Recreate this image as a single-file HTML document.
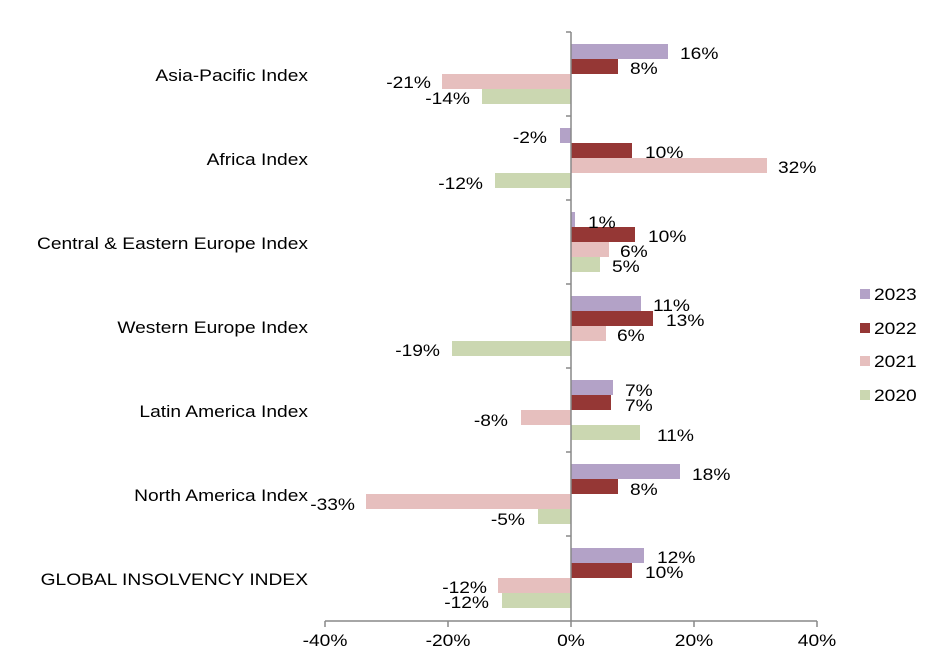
<!DOCTYPE html>
<html><head><meta charset="utf-8"><style>
html,body{margin:0;padding:0;background:#fff;}
svg{display:block;font-family:"Liberation Sans",Arial,sans-serif;font-size:16.5px;fill:#000;}
</style></head><body>
<svg width="946" height="665" xmlns="http://www.w3.org/2000/svg">
<g id="bars">
<rect x="571" y="44" width="97" height="15" fill="#b3a2c7"/>
<rect x="571" y="59" width="47" height="15" fill="#953735"/>
<rect x="442" y="74" width="129" height="15" fill="#e6bfbe"/>
<rect x="482" y="89" width="89" height="15" fill="#cbd7b1"/>
<rect x="560" y="128" width="11" height="15" fill="#b3a2c7"/>
<rect x="571" y="143" width="61" height="15" fill="#953735"/>
<rect x="571" y="158" width="196" height="15" fill="#e6bfbe"/>
<rect x="495" y="173" width="76" height="15" fill="#cbd7b1"/>
<rect x="571" y="212" width="4" height="15" fill="#b3a2c7"/>
<rect x="571" y="227" width="64" height="15" fill="#953735"/>
<rect x="571" y="242" width="38" height="15" fill="#e6bfbe"/>
<rect x="571" y="257" width="29" height="15" fill="#cbd7b1"/>
<rect x="571" y="296" width="70" height="15" fill="#b3a2c7"/>
<rect x="571" y="311" width="82" height="15" fill="#953735"/>
<rect x="571" y="326" width="35" height="15" fill="#e6bfbe"/>
<rect x="452" y="341" width="119" height="15" fill="#cbd7b1"/>
<rect x="571" y="380" width="42" height="15" fill="#b3a2c7"/>
<rect x="571" y="395" width="40" height="15" fill="#953735"/>
<rect x="521" y="410" width="50" height="15" fill="#e6bfbe"/>
<rect x="571" y="425" width="69" height="15" fill="#cbd7b1"/>
<rect x="571" y="464" width="109" height="15" fill="#b3a2c7"/>
<rect x="571" y="479" width="47" height="15" fill="#953735"/>
<rect x="366" y="494" width="205" height="15" fill="#e6bfbe"/>
<rect x="538" y="509" width="33" height="15" fill="#cbd7b1"/>
<rect x="571" y="548" width="73" height="15" fill="#b3a2c7"/>
<rect x="571" y="563" width="61" height="15" fill="#953735"/>
<rect x="498" y="578" width="73" height="15" fill="#e6bfbe"/>
<rect x="502" y="593" width="69" height="15" fill="#cbd7b1"/>
</g>
<g stroke="#888" stroke-width="1.5" fill="none">
<line x1="571" y1="32" x2="571" y2="621"/>
<line x1="566" y1="32" x2="571" y2="32"/>
<line x1="566" y1="116" x2="571" y2="116"/>
<line x1="566" y1="200" x2="571" y2="200"/>
<line x1="566" y1="284" x2="571" y2="284"/>
<line x1="566" y1="368" x2="571" y2="368"/>
<line x1="566" y1="452" x2="571" y2="452"/>
<line x1="566" y1="536" x2="571" y2="536"/>
<line x1="325" y1="621" x2="817" y2="621"/>
<line x1="325" y1="621" x2="325" y2="627"/>
<line x1="448" y1="621" x2="448" y2="627"/>
<line x1="571" y1="621" x2="571" y2="627"/>
<line x1="694" y1="621" x2="694" y2="627"/>
<line x1="817" y1="621" x2="817" y2="627"/>
</g>
<g style="font-size:17px">
<g text-anchor="middle">
<g transform="translate(325,646) scale(1.13,1)"><text>-40%</text></g>
<g transform="translate(448,646) scale(1.13,1)"><text>-20%</text></g>
<g transform="translate(571,646) scale(1.13,1)"><text>0%</text></g>
<g transform="translate(694,646) scale(1.13,1)"><text>20%</text></g>
<g transform="translate(817,646) scale(1.13,1)"><text>40%</text></g>
</g>
<g text-anchor="end">
<g transform="translate(308,81) scale(1.13,1)"><text>Asia-Pacific Index</text></g>
<g transform="translate(308,165) scale(1.13,1)"><text>Africa Index</text></g>
<g transform="translate(308,249) scale(1.13,1)"><text>Central &amp; Eastern Europe Index</text></g>
<g transform="translate(308,333) scale(1.13,1)"><text>Western Europe Index</text></g>
<g transform="translate(308,417) scale(1.13,1)"><text>Latin America Index</text></g>
<g transform="translate(308,501) scale(1.13,1)"><text>North America Index</text></g>
<g transform="translate(308,585) scale(1.13,1)"><text>GLOBAL INSOLVENCY INDEX</text></g>
<g transform="translate(431,88) scale(1.13,1)"><text>-21%</text></g>
<g transform="translate(470,104) scale(1.13,1)"><text>-14%</text></g>
<g transform="translate(547,143) scale(1.13,1)"><text>-2%</text></g>
<g transform="translate(483,189) scale(1.13,1)"><text>-12%</text></g>
<g transform="translate(440,356) scale(1.13,1)"><text>-19%</text></g>
<g transform="translate(508,426) scale(1.13,1)"><text>-8%</text></g>
<g transform="translate(355,510) scale(1.13,1)"><text>-33%</text></g>
<g transform="translate(525,525) scale(1.13,1)"><text>-5%</text></g>
<g transform="translate(487,593) scale(1.13,1)"><text>-12%</text></g>
<g transform="translate(489,608) scale(1.13,1)"><text>-12%</text></g>
</g>
<g>
<g transform="translate(680,59) scale(1.13,1)"><text>16%</text></g>
<g transform="translate(630,74) scale(1.13,1)"><text>8%</text></g>
<g transform="translate(645,158) scale(1.13,1)"><text>10%</text></g>
<g transform="translate(778,173) scale(1.13,1)"><text>32%</text></g>
<g transform="translate(588,228) scale(1.13,1)"><text>1%</text></g>
<g transform="translate(648,242) scale(1.13,1)"><text>10%</text></g>
<g transform="translate(620,257) scale(1.13,1)"><text>6%</text></g>
<g transform="translate(612,272) scale(1.13,1)"><text>5%</text></g>
<g transform="translate(653,311) scale(1.13,1)"><text>11%</text></g>
<g transform="translate(666,326) scale(1.13,1)"><text>13%</text></g>
<g transform="translate(617,341) scale(1.13,1)"><text>6%</text></g>
<g transform="translate(625,396) scale(1.13,1)"><text>7%</text></g>
<g transform="translate(625,411) scale(1.13,1)"><text>7%</text></g>
<g transform="translate(657,441) scale(1.13,1)"><text>11%</text></g>
<g transform="translate(692,480) scale(1.13,1)"><text>18%</text></g>
<g transform="translate(630,495) scale(1.13,1)"><text>8%</text></g>
<g transform="translate(657,563) scale(1.13,1)"><text>12%</text></g>
<g transform="translate(645,578) scale(1.13,1)"><text>10%</text></g>
</g>
<g>
<rect x="860" y="289" width="10" height="10" fill="#b3a2c7"/><g transform="translate(874,300) scale(1.13,1)"><text>2023</text></g>
<rect x="860" y="323" width="10" height="10" fill="#953735"/><g transform="translate(874,334) scale(1.13,1)"><text>2022</text></g>
<rect x="860" y="356" width="10" height="10" fill="#e6bfbe"/><g transform="translate(874,367) scale(1.13,1)"><text>2021</text></g>
<rect x="860" y="390" width="10" height="10" fill="#cbd7b1"/><g transform="translate(874,401) scale(1.13,1)"><text>2020</text></g>
</g>
</g>
</svg>
</body></html>
